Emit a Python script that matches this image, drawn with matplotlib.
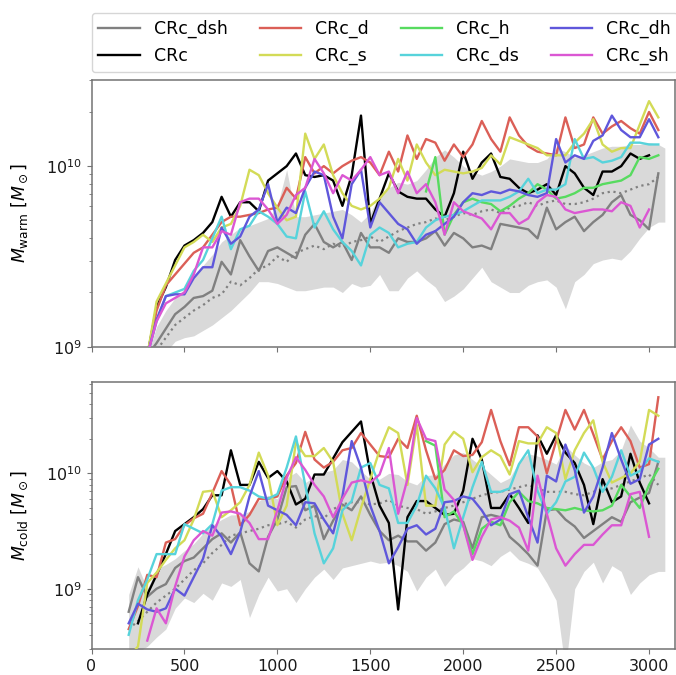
import numpy as np
import matplotlib
matplotlib.use('Agg')
import matplotlib.pyplot as plt
from matplotlib.ticker import NullFormatter

nan = np.nan

# simulation time (Myr)
time = [200, 250, 300, 350, 400, 450, 500, 550, 600, 650,
        700, 750, 800, 850, 900, 950, 1000, 1050, 1100, 1150,
        1200, 1250, 1300, 1350, 1400, 1450, 1500, 1550, 1600, 1650,
        1700, 1750, 1800, 1850, 1900, 1950, 2000, 2050, 2100, 2150,
        2200, 2250, 2300, 2350, 2400, 2450, 2500, 2550, 2600, 2650,
        2700, 2750, 2800, 2850, 2900, 2950, 3000, 3050, 3085]

runs = ['CRc_dsh', 'CRc', 'CRc_d', 'CRc_s', 'CRc_h', 'CRc_ds', 'CRc_dh', 'CRc_sh']
colors = ['gray', 'black', '#db5f57', '#d3db57', '#57db5f', '#57d3db', '#5f57db', '#db57d3']

# ---- warm gas, log10(M / Msun) ----
warm_dsh = [8.70, 8.85, 8.95, 9.02, 9.10, 9.18, 9.22, 9.27, 9.28, 9.31,
            9.47, 9.40, 9.59, 9.50, 9.42, 9.53, 9.55, 9.52, 9.49, 9.62,
            9.68, 9.58, 9.55, 9.58, 9.48, 9.63, 9.55, 9.55, 9.52, 9.60,
            9.58, 9.58, 9.60, 9.64, 9.56, 9.63, 9.60, 9.55, 9.56, 9.54,
            9.68, 9.67, 9.66, 9.65, 9.60, 9.77, 9.65, 9.69, 9.72, 9.64,
            9.69, 9.73, 9.80, 9.84, 9.73, 9.70, 9.65, 9.96, nan]
warm_crc = [8.70, 8.80, 8.95, 9.22, 9.33, 9.48, 9.56, 9.59, 9.63, 9.69,
            9.83, 9.72, 9.80, 9.80, 9.75, 9.92, 9.96, 10.00, 10.07, 9.95,
            9.94, 9.95, 9.92, 9.78, 9.95, 10.28, 9.68, 9.82, 9.96, 9.86,
            9.83, 9.82, 9.82, 9.76, 9.72, 9.85, 10.08, 9.93, 10.02, 10.07,
            9.94, 9.93, 9.88, 9.85, 9.87, 9.90, 9.84, 10.00, 9.96, 9.88,
            9.84, 9.97, 9.97, 10.00, 10.07, 10.04, 10.06, nan, nan]
warm_d = [8.70, 8.80, 8.95, 9.20, 9.34, 9.40, 9.46, 9.52, 9.55, 9.62,
          9.69, 9.72, 9.72, 9.73, 9.74, 9.76, 9.77, 9.88, 9.82, 10.05,
          9.96, 10.00, 9.96, 10.00, 10.03, 10.05, 10.02, 9.95, 10.08, 9.97,
          10.17, 10.04, 10.15, 10.13, 10.03, 10.12, 10.05, 10.12, 10.25, 10.15,
          10.08, 10.27, 10.17, 10.11, 10.08, 10.07, 10.06, 10.27, 10.10, 10.12,
          10.27, 10.18, 10.22, 10.25, 10.21, 10.18, 10.30, 10.20, nan]
warm_s = [8.70, 8.80, 8.95, 9.25, 9.35, 9.45, 9.55, 9.58, 9.62, 9.58,
          9.66, 9.68, 9.78, 9.98, 9.95, 9.85, 9.77, 9.70, 9.72, 10.18,
          10.04, 10.12, 9.95, 9.85, 9.78, 9.76, 9.78, 9.82, 9.88, 10.04,
          9.92, 10.12, 10.02, 9.95, 9.98, 9.97, 9.96, 9.97, 9.99, 10.06,
          10.01, 10.16, 10.14, 10.12, 10.10, 10.06, 10.06, 10.06, 10.13, 10.18,
          10.26, 10.12, 10.08, 10.10, 10.10, 10.23, 10.36, 10.27, nan]
warm_h = [nan, nan, nan, nan, nan, nan, nan, nan, nan, nan,
          nan, nan, nan, nan, nan, nan, nan, nan, nan, nan,
          nan, nan, nan, nan, nan, nan, nan, nan, nan, nan,
          nan, nan, 9.86, 10.05, 9.62, 9.73, 9.80, 9.82, 9.80, 9.79,
          9.75, 9.78, 9.82, 9.85, 9.90, 9.87, 9.82, 9.83, 9.85, 9.88,
          9.88, 9.90, 9.91, 9.92, 9.95, 10.05, 10.04, 10.06, nan]
warm_ds = [8.60, 8.80, 8.95, 9.14, 9.28, 9.30, 9.32, 9.42, 9.48, 9.60,
           9.72, 9.54, 9.65, 9.67, 9.75, 9.72, 9.68, 9.61, 9.60, 9.86,
           9.66, 9.75, 9.65, 9.58, 9.53, 9.45, 9.62, 9.66, 9.63, 9.55,
           9.57, 9.58, 9.66, 9.70, 9.72, 9.73, 9.75, 9.78, 9.81, 9.81,
           9.81, 9.83, 9.86, 9.93, 9.85, 9.87, 9.87, 9.90, 10.15, 10.04,
           10.05, 10.02, 10.03, 10.05, 10.13, 10.13, 10.12, 10.12, nan]
warm_dh = [8.60, 8.80, 8.95, 9.15, 9.28, 9.29, 9.29, 9.38, 9.44, 9.44,
           9.66, 9.57, 9.61, 9.72, 9.76, 9.90, 9.69, 9.77, 9.74, 9.88,
           9.97, 9.95, 9.72, 9.60, 9.90, 9.98, 9.66, 9.80, 9.74, 9.68,
           9.65, 9.57, 9.62, 9.64, 9.68, 9.72, 9.80, 9.85, 9.84, 9.86,
           9.85, 9.87, 9.86, 9.84, 9.83, 9.85, 10.15, 10.02, 10.06, 10.04,
           10.14, 10.17, 10.28, 10.20, 10.16, 10.16, 10.26, 10.16, nan]
warm_sh = [8.60, 8.80, 8.95, 9.14, 9.24, 9.27, 9.30, 9.40, 9.55, 9.55,
           9.64, 9.62, 9.80, 9.82, 9.82, 9.76, 9.68, 9.73, 9.84, 9.88,
           10.04, 9.96, 9.85, 9.95, 9.92, 9.98, 10.05, 9.95, 9.97, 9.85,
           9.97, 9.85, 9.90, 9.80, 9.62, 9.80, 9.75, 9.73, 9.71, 9.65,
           9.74, 9.74, 9.68, 9.71, 9.80, 9.84, 9.83, 9.76, 9.74, 9.75,
           9.76, 9.76, 9.75, 9.80, 9.78, 9.66, 9.76, nan, nan]
warm_hi = [8.70, 8.85, 8.95, 9.11, 9.20, 9.27, 9.32, 9.38, 9.45, 9.51,
           9.58, 9.62, 9.66, 9.67, 9.69, 9.71, 9.78, 9.98, 9.72, 9.72,
           9.73, 9.74, 9.75, 9.76, 9.73, 9.69, 9.74, 9.84, 9.88, 9.91,
           9.90, 9.92, 9.98, 10.05, 10.09, 10.05, 10.00, 9.97, 9.95, 9.97,
           10.00, 10.04, 10.03, 10.02, 10.02, 10.04, 10.10, 10.08, 10.05, 10.06,
           10.08, 10.10, 10.11, 10.11, 10.12, 10.12, 10.13, 10.12, 10.10]
warm_lo = [8.50, 8.60, 8.70, 8.90, 8.97, 9.03, 9.05, 9.06, 9.09, 9.12,
           9.16, 9.20, 9.25, 9.30, 9.36, 9.36, 9.35, 9.33, 9.31, 9.31,
           9.32, 9.33, 9.33, 9.30, 9.35, 9.33, 9.34, 9.40, 9.31, 9.31,
           9.38, 9.42, 9.37, 9.33, 9.25, 9.28, 9.32, 9.38, 9.44, 9.36,
           9.33, 9.30, 9.30, 9.34, 9.36, 9.37, 9.33, 9.21, 9.36, 9.40,
           9.46, 9.48, 9.49, 9.48, 9.53, 9.60, 9.66, 9.69, 9.69]
warm_med = [8.70, 8.80, 8.90, 8.98, 9.05, 9.12, 9.16, 9.20, 9.23, 9.27,
            9.29, 9.36, 9.34, 9.38, 9.43, 9.45, 9.50, 9.47, 9.52, 9.54,
            9.56, 9.54, 9.57, 9.55, 9.58, 9.59, 9.61, 9.58, 9.61, 9.64,
            9.66, 9.68, 9.69, 9.71, 9.70, 9.72, 9.74, 9.73, 9.75, 9.76,
            9.74, 9.77, 9.78, 9.80, 9.78, 9.80, 9.81, 9.79, 9.79, 9.80,
            9.82, 9.85, 9.86, 9.85, 9.87, 9.89, 9.90, 9.94, nan]

# ---- cold gas, log10(M / Msun) ----
cold_dsh = [8.80, 9.10, 8.93, 9.00, 9.04, 9.18, 9.24, 9.27, 9.35, 9.43,
            9.48, 9.40, 9.49, 9.22, 9.15, 9.45, 9.60, 9.88, 9.89, 9.68,
            9.72, 9.43, 9.59, 9.73, 9.68, 9.80, 9.64, 9.50, 9.42, 9.46,
            9.41, 9.41, 9.33, 9.40, 9.56, 9.60, 9.58, 9.35, 9.62, 9.64,
            9.62, 9.45, 9.38, 9.30, 9.20, 9.68, 9.69, 9.60, 9.54, 9.44,
            9.50, 9.56, 9.62, 9.58, 9.75, 9.79, 9.83, 10.10, nan]
cold_crc = [nan, 8.70, 8.95, 9.12, 9.30, 9.50, 9.56, 9.62, 9.69, 9.81,
            9.81, 10.20, 9.90, 9.90, 10.10, 9.96, 10.02, 9.93, 9.73, 9.78,
            9.99, 9.99, 10.13, 10.27, 10.36, 10.45, 10.00, 9.72, 9.57, 8.82,
            9.62, 9.76, 9.76, 9.70, 9.64, 9.65, 9.85, 10.30, 10.12, 9.70,
            9.70, 9.82, 9.70, 9.57, 10.33, 10.17, 10.33, 10.18, 10.09, 9.90,
            9.56, 9.95, 9.75, 9.80, 10.17, 9.92, 9.74, nan, nan]
cold_d = [8.65, 8.85, 9.12, 9.10, 9.40, 9.43, 9.55, 9.61, 9.65, 9.83,
          10.02, 9.90, 9.55, 9.64, 9.78, 9.78, 9.80, 9.98, 10.09, 10.36,
          10.12, 10.05, 10.10, 10.20, 10.22, 10.35, 10.25, 10.15, 10.14, 10.30,
          10.22, 10.50, 10.20, 9.95, 10.03, 10.20, 10.15, 10.16, 10.27, 10.55,
          10.28, 10.07, 10.40, 10.40, 10.32, 10.00, 10.28, 10.55, 10.38, 10.55,
          10.34, 10.12, 10.28, 10.40, 10.28, 10.05, 10.08, 10.66, nan]
cold_s = [8.40, 8.50, 9.05, 9.14, 9.25, 9.35, 9.42, 9.60, 9.84, 9.85,
          9.62, 9.68, 9.75, 9.90, 10.18, 9.98, 9.55, 9.72, 10.27, 10.15,
          10.15, 10.22, 10.10, 9.65, 9.42, 9.70, 9.95, 10.20, 10.40, 10.35,
          9.90, 10.42, 9.72, 9.72, 10.25, 10.36, 10.30, 10.01, 10.14, 10.20,
          10.15, 9.99, 10.28, 10.26, 10.26, 10.40, 10.35, 9.95, 10.20, 10.35,
          10.46, 10.10, 9.92, 9.96, 10.00, 10.10, 10.55, 10.50, nan]
cold_h = [nan, nan, nan, nan, nan, nan, nan, nan, nan, nan,
          nan, nan, nan, nan, nan, nan, nan, nan, nan, nan,
          nan, nan, nan, nan, nan, nan, nan, nan, nan, nan,
          nan, nan, 10.28, 10.24, 9.62, 9.67, 9.55, 9.30, 9.52, 9.58,
          9.55, 9.75, 9.84, 9.76, 9.74, 9.70, 9.69, 9.68, 9.70, 9.68,
          9.67, 9.68, 9.72, 9.90, 9.80, 9.70, 9.90, 10.04, nan]
cold_ds = [8.60, 8.90, 9.08, 9.30, 9.30, 9.30, 9.56, 9.52, 9.48, 9.56,
           9.85, 9.88, 9.88, 9.85, 9.80, 9.78, 9.82, 10.05, 10.32, 9.90,
           9.48, 9.22, 9.35, 9.68, 9.76, 10.05, 10.09, 9.90, 9.87, 9.57,
           9.57, 9.72, 9.98, 9.87, 9.70, 9.35, 9.62, 9.88, 10.10, 9.84,
           9.84, 9.87, 10.08, 10.20, 9.85, 9.65, 9.75, 9.93, 9.97, 10.18,
           10.05, 9.84, 9.97, 10.20, 9.98, 10.02, 10.13, 10.10, nan]
cold_dh = [8.70, 8.87, 8.82, 8.80, 8.83, 9.00, 8.94, 9.10, 9.26, 9.55,
           9.45, 9.30, 9.49, 9.80, 10.02, 9.72, 9.68, 9.64, 9.55, 9.75,
           9.74, 9.60, 9.48, 9.80, 10.28, 10.05, 9.72, 9.50, 9.22, 9.36,
           9.52, 9.55, 9.47, 9.52, 9.75, 9.76, 9.80, 9.78, 9.68, 9.55,
           9.60, 9.82, 9.85, 9.62, 9.40, 9.98, 9.93, 10.25, 10.03, 9.66,
           9.80, 10.05, 10.35, 10.12, 9.91, 9.95, 10.25, 10.30, nan]
cold_sh = [nan, nan, 8.55, 8.83, 8.70, 9.02, 9.28, 9.42, 9.50, 9.46,
           9.66, 9.67, 9.65, 9.57, 9.43, 9.43, 9.68, 9.96, 10.14, 10.03,
           9.90, 9.80, 9.62, 9.78, 9.92, 9.94, 9.92, 9.99, 10.22, 9.65,
           9.95, 10.48, 10.30, 10.28, 9.86, 9.77, 9.55, 9.25, 9.45, 9.60,
           9.62, 9.59, 9.53, 9.33, 9.98, 9.65, 9.35, 9.20, 9.30, 9.38,
           9.38, 9.47, 9.55, 9.55, 9.82, 9.84, 9.45, nan, nan]
cold_hi = [8.95, 9.19, 9.00, 9.17, 9.21, 9.26, 9.33, 9.39, 9.48, 9.55,
           9.60, 9.64, 9.64, 9.67, 9.76, 9.81, 9.78, 9.96, 10.01, 9.92,
           9.97, 10.01, 10.03, 10.12, 10.10, 10.02, 9.95, 9.95, 10.00, 9.99,
           9.93, 9.90, 9.98, 9.99, 10.08, 10.16, 10.18, 10.12, 10.06, 9.99,
           9.92, 9.96, 10.10, 10.17, 10.15, 10.12, 10.08, 10.24, 10.16, 10.09,
           10.05, 10.10, 10.12, 10.20, 10.42, 10.28, 10.22, 10.14, 10.14]
cold_lo = [8.42, 8.45, 8.50, 8.58, 8.65, 8.83, 8.92, 8.88, 8.96, 8.90,
           9.05, 9.02, 9.08, 8.75, 8.95, 9.10, 8.98, 9.00, 8.88, 9.00,
           9.10, 9.17, 9.08, 9.18, 9.20, 9.22, 9.24, 9.22, 9.23, 9.20,
           9.15, 8.98, 9.10, 9.17, 9.02, 9.12, 9.18, 9.26, 9.24, 9.20,
           9.28, 9.33, 9.25, 9.22, 9.18, 9.05, 8.90, 8.30, 9.00, 9.15,
           9.23, 9.05, 9.20, 9.15, 8.95, 9.05, 9.12, 9.15, 9.15]
cold_med = [8.65, 8.72, 8.80, 8.88, 8.94, 9.00, 9.08, 9.16, 9.22, 9.31,
            9.38, 9.46, 9.48, 9.50, 9.52, 9.55, 9.56, 9.58, 9.53, 9.60,
            9.63, 9.61, 9.69, 9.73, 9.75, 9.75, 9.73, 9.74, 9.77, 9.72,
            9.70, 9.69, 9.65, 9.67, 9.70, 9.72, 9.75, 9.78, 9.81, 9.83,
            9.84, 9.86, 9.88, 9.90, 9.87, 9.84, 9.84, 9.84, 9.82, 9.81,
            9.84, 9.86, 9.87, 9.90, 9.93, 9.96, 9.99, 9.90, nan]

warm = [warm_dsh, warm_crc, warm_d, warm_s, warm_h, warm_ds, warm_dh, warm_sh]
cold = [cold_dsh, cold_crc, cold_d, cold_s, cold_h, cold_ds, cold_dh, cold_sh]

fig = plt.figure(figsize=(6.76, 6.75), dpi=100)
ax1 = fig.add_axes([0.1354, 0.4864, 0.8632, 0.3951])
ax2 = fig.add_axes([0.1354, 0.0385, 0.8632, 0.3956], sharex=ax1)

panels = [(ax1, warm, warm_lo, warm_hi, warm_med, r'$M_{\rm warm}\ [M_\odot]$', (1e9, 3.0e10)),
          (ax2, cold, cold_lo, cold_hi, cold_med, r'$M_{\rm cold}\ [M_\odot]$', (3.0e8, 6.2e10))]

for ax, series, lo, hi, med, ylab, ylim in panels:
    ax.fill_between(time, 10**np.array(lo), 10**np.array(hi), color='#d9d9d9', lw=0, zorder=1)
    ax.plot(time, 10**np.array(med), ls=':', color='gray', lw=1.6, zorder=2)
    for name, vals, c in zip(runs, series, colors):
        ax.plot(time, 10**np.array(vals), color=c, lw=1.7, label=name, zorder=3)
    ax.set_yscale('log')
    ax.set_ylim(*ylim)
    ax.set_xlim(0, 3140)
    ax.set_ylabel(ylab, fontsize=12.5)
    ax.yaxis.set_minor_formatter(NullFormatter())
    ax.tick_params(which='both', colors='0.45', labelcolor='0.1', labelsize=11.5)
    for sp in ax.spines.values():
        sp.set_color('0.45')
        sp.set_linewidth(1.1)

ax1.tick_params(labelbottom=False)
ax2.set_xticks([0, 500, 1000, 1500, 2000, 2500, 3000])
ax1.yaxis.set_label_coords(-0.105, 0.5)
ax2.yaxis.set_label_coords(-0.105, 0.5)

ax1.legend(ncol=4, loc='lower left', bbox_to_anchor=(0, 1.03, 1.005, 0.2), mode='expand',
           fontsize=12.5, borderaxespad=0, handlelength=2.4, edgecolor='0.8')

fig.savefig('out.png', dpi=100)
